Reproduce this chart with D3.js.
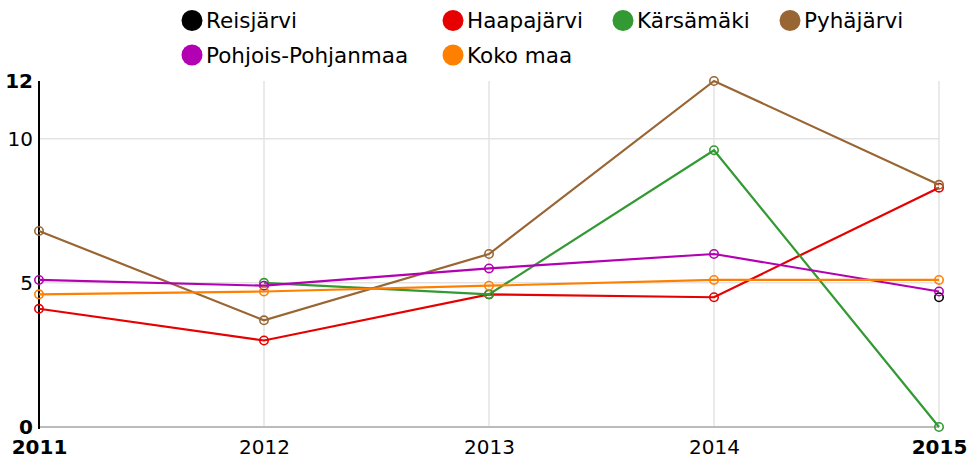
<!DOCTYPE html>
<html>
<head>
<meta charset="utf-8">
<script src="https://cdn.jsdelivr.net/npm/d3@7"></script>
<style>
  html, body { margin: 0; padding: 0; background: #fff; }
  svg { display: block; font-family: "DejaVu Sans", sans-serif; }
</style>
</head>
<body>
<svg id="chart" width="967" height="459"></svg>
<script>
// Years on the x axis
const years = [2011, 2012, 2013, 2014, 2015];

// One array per area; null where no value was reported
const reisjarvi = [null, null, null, null, 4.5];
const haapajarvi = [4.1, 3.0, 4.6, 4.5, 8.3];
const karsamaki = [null, 5.0, 4.6, 9.6, 0];
const pyhajarvi = [6.8, 3.7, 6.0, 12.0, 8.4];
const pohjoisPohjanmaa = [5.1, 4.9, 5.5, 6.0, 4.7];
const kokoMaa = [4.6, 4.7, 4.9, 5.1, 5.1];

const seriesNames = ["Reisjärvi", "Haapajärvi", "Kärsämäki", "Pyhäjärvi", "Pohjois-Pohjanmaa", "Koko maa"];
const seriesColors = ["#000000", "#e60000", "#339933", "#996633", "#b300b3", "#ff8000"];
const seriesValues = [reisjarvi, haapajarvi, karsamaki, pyhajarvi, pohjoisPohjanmaa, kokoMaa];

const yTicks = [0, 5, 10, 12];

const svg = d3.select("#chart");
const plotLeft = 39, plotRight = 939, plotTop = 81, plotBottom = 427;

const x = d3.scalePoint().domain(years).range([plotLeft, plotRight]);
const y = d3.scaleLinear().domain([0, 12]).range([plotBottom, plotTop]);

// Grid
const grid = svg.append("g");
grid.selectAll("line.v").data(years.slice(1)).join("line")
  .attr("x1", d => x(d)).attr("x2", d => x(d))
  .attr("y1", plotTop).attr("y2", plotBottom)
  .attr("stroke", "#e3e3e3").attr("stroke-width", 1.5);
grid.selectAll("line.h").data([5, 10]).join("line")
  .attr("x1", plotLeft).attr("x2", plotRight)
  .attr("y1", d => y(d)).attr("y2", d => y(d))
  .attr("stroke", "#e3e3e3").attr("stroke-width", 1.5);
grid.append("line")
  .attr("x1", plotLeft).attr("x2", plotRight)
  .attr("y1", y(0)).attr("y2", y(0))
  .attr("stroke", "#bbbbbb").attr("stroke-width", 2);

// Y axis
const yAxis = svg.append("g").attr("transform", `translate(${plotLeft},0)`)
  .call(d3.axisLeft(y).tickValues(yTicks).tickSize(0).tickPadding(6));
yAxis.select(".domain").attr("stroke", "#000").attr("stroke-width", 2)
  .attr("d", `M0,${plotTop}V${plotBottom + 2}`);
yAxis.selectAll("text")
  .attr("fill", "#000")
  .style("font-size", "20px")
  .style("font-family", "DejaVu Sans")
  .style("font-weight", d => (d === 0 || d === 12) ? "bold" : "normal");

// X axis
const xAxis = svg.append("g").attr("transform", `translate(0,${plotBottom})`)
  .call(d3.axisBottom(x).tickSize(0).tickPadding(13).tickFormat(d3.format("d")));
xAxis.select(".domain").remove();
xAxis.selectAll("text")
  .attr("fill", "#000")
  .style("font-size", "20px")
  .style("font-family", "DejaVu Sans")
  .style("font-weight", d => (d === 2011 || d === 2015) ? "bold" : "normal");

// Lines and markers
const line = d3.line()
  .defined(d => d.v !== null)
  .x(d => x(d.year)).y(d => y(d.v));

seriesValues.forEach((vals, i) => {
  const pts = years.map((yr, j) => ({ year: yr, v: vals[j] }));
  const g = svg.append("g");
  g.append("path").datum(pts)
    .attr("d", line)
    .attr("fill", "none")
    .attr("stroke", seriesColors[i])
    .attr("stroke-width", 2.2);
  g.selectAll("circle").data(pts.filter(d => d.v !== null)).join("circle")
    .attr("cx", d => x(d.year)).attr("cy", d => y(d.v))
    .attr("r", 4.2)
    .attr("fill", "none")
    .attr("stroke", seriesColors[i])
    .attr("stroke-width", 1.6);
});

// Legend
const legendPos = [
  [192, 20.5], [453, 20.5], [623, 20.5], [790, 20.5],
  [192, 55], [453, 55]
];
const legend = svg.append("g");
seriesNames.forEach((name, i) => {
  const [cx, cy] = legendPos[i];
  legend.append("circle").attr("cx", cx).attr("cy", cy).attr("r", 10.5)
    .attr("fill", seriesColors[i]);
  legend.append("text").attr("x", cx + 14).attr("y", cy)
    .attr("dy", "0.36em")
    .style("font-size", "21.5px")
    .attr("fill", "#000")
    .text(name);
});
</script>
</body>
</html>
